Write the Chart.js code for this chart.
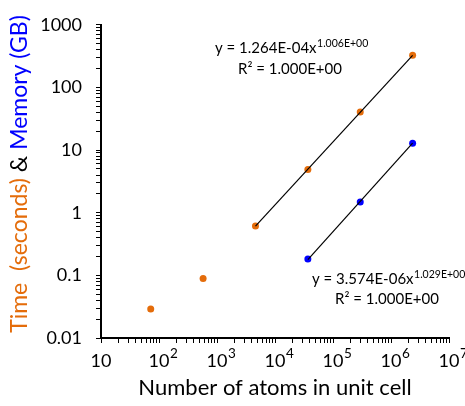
<!DOCTYPE html>
<html>
<head>
<meta charset="utf-8">
<script src="https://cdn.jsdelivr.net/npm/chart.js@4"></script>
<style>
  html, body { margin: 0; padding: 0; background: #fff; }
</style>
</head>
<body>
<canvas id="chart" width="465" height="406"></canvas>
<script>
// data
const atoms   = [72, 576, 4608, 36864, 294912, 2359296];
const timeSec = [0.029, 0.089, 0.615, 4.9, 40.5, 327];
const memAtoms = [36864, 294912, 2359296];
const memGB    = [0.183, 1.48, 12.9];

// power-law fits y = a * x^b, drawn over the fitted range
const timeFit = [1.264e-4, 1.006];
const memFit  = [3.574e-6, 1.029];
const timeFitRange = [4608, 2359296];
const memFitRange  = [36864, 2359296];

const xExponents  = [1, 2, 3, 4, 5, 6, 7];
const yTickLabels = ["0.01", "0.1", "1", "10", "100", "1000"];
const timeEq = ["y = 1.264E-04x", "1.006E+00", "R² = 1.000E+00"];
const memEq  = ["y = 3.574E-06x", "1.029E+00", "R² = 1.000E+00"];
const yTitle = [["Time  (seconds) ", "#E46C0A"], ["& ", "#000"], ["Memory (GB)", "#0000FF"]];
const xTitle = "Number of atoms in unit cell";

const ORANGE = "#E46C0A", BLUE = "#0000FF";
const FONT = "Lato, 'Open Sans', sans-serif";

function logTicks(minExp, maxExp) {
  const t = [];
  for (let e = minExp; e < maxExp; e++)
    for (let m = 1; m < 10; m++) t.push({ value: m * Math.pow(10, e), major: m === 1 });
  t.push({ value: Math.pow(10, maxExp), major: true });
  return t;
}

function trend(fit, range) {
  return range.map(x => ({ x, y: fit[0] * Math.pow(x, fit[1]) }));
}

// text that Chart.js can't do itself: superscripts, multicolour title
const annotate = {
  id: "annotate",
  afterDraw(chart) {
    const ctx = chart.ctx;
    const xs = chart.scales.x;
    ctx.save();
    ctx.fillStyle = "#000";

    // x tick labels 10, 10^2 ...
    xExponents.forEach(e => {
      const px = xs.getPixelForValue(Math.pow(10, e));
      ctx.font = `18px ${FONT}`;
      ctx.textBaseline = "alphabetic";
      const wb = ctx.measureText("10").width;
      ctx.textAlign = "left";
      ctx.fillText("10", px - wb / 2, 367);
      if (e > 1) {
        ctx.font = `13.5px ${FONT}`;
        ctx.fillText(String(e), px + wb / 2 + 0.5, 358);
      }
    });

    // x title
    ctx.font = `22px ${FONT}`;
    ctx.textAlign = "center";
    ctx.textBaseline = "middle";
    ctx.fillText(xTitle, (chart.chartArea.left + chart.chartArea.right) / 2, 388);

    // y title, rotated, three colours
    ctx.save();
    ctx.translate(20, 174);
    ctx.rotate(-Math.PI / 2);
    ctx.font = `23px ${FONT}`;
    ctx.textAlign = "left";
    const total = yTitle.reduce((s, p) => s + ctx.measureText(p[0]).width, 0);
    let cx = -total / 2;
    yTitle.forEach(([txt, col]) => {
      ctx.fillStyle = col;
      ctx.fillText(txt, cx, 0);
      cx += ctx.measureText(txt).width;
    });
    ctx.restore();

    // trendline equations
    function eq(lines, x1, y1, x2, y2) {
      ctx.fillStyle = "#000";
      ctx.textAlign = "left";
      ctx.textBaseline = "alphabetic";
      ctx.font = `15px ${FONT}`;
      ctx.fillText(lines[0], x1, y1);
      const w = ctx.measureText(lines[0]).width;
      ctx.font = `10.5px ${FONT}`;
      ctx.fillText(lines[1], x1 + w + 0.5, y1 - 6);
      ctx.font = `15px ${FONT}`;
      ctx.fillText(lines[2], x2, y2);
    }
    eq(timeEq, 215, 53, 238, 74);
    eq(memEq, 312, 284, 335, 304);
    ctx.restore();
  }
};

const gridOpts = { drawOnChartArea: false, drawTicks: true, tickLength: 5, color: "#000", lineWidth: 1 };

new Chart(document.getElementById("chart"), {
  type: "scatter",
  data: {
    datasets: [
      { label: "time fit", data: trend(timeFit, timeFitRange), showLine: true, borderColor: "#000", borderWidth: 1.2, pointRadius: 0 },
      { label: "memory fit", data: trend(memFit, memFitRange), showLine: true, borderColor: "#000", borderWidth: 1.2, pointRadius: 0 },
      { label: "Time", data: atoms.map((x, i) => ({ x, y: timeSec[i] })), backgroundColor: ORANGE, borderColor: ORANGE, borderWidth: 0, pointRadius: 3.5 },
      { label: "Memory", data: memAtoms.map((x, i) => ({ x, y: memGB[i] })), backgroundColor: BLUE, borderColor: BLUE, borderWidth: 0, pointRadius: 3.5 }
    ]
  },
  options: {
    responsive: false,
    devicePixelRatio: 1,
    animation: false,
    layout: { padding: { left: 0, right: 16, top: 16, bottom: 0 } },
    plugins: { legend: { display: false }, tooltip: { enabled: false } },
    scales: {
      x: {
        type: "logarithmic", min: 10, max: 1e7,
        afterBuildTicks: s => { s.ticks = logTicks(1, 7); },
        afterFit: s => { s.height = 68; },
        grid: gridOpts,
        border: { color: "#000", width: 2 },
        ticks: { display: false, autoSkip: false }
      },
      y: {
        type: "logarithmic", min: 0.01, max: 1000,
        afterBuildTicks: s => { s.ticks = logTicks(-2, 3); },
        afterFit: s => { s.width = 101; },
        grid: gridOpts,
        border: { color: "#000", width: 2 },
        ticks: {
          autoSkip: false, padding: 14, color: "#000",
          font: { family: FONT, size: 18 },
          callback: v => yTickLabels.find(s => Math.abs(Number(s) - v) < 1e-9 * Math.max(1, v)) || ""
        }
      }
    }
  },
  plugins: [annotate]
});
</script>
</body>
</html>
